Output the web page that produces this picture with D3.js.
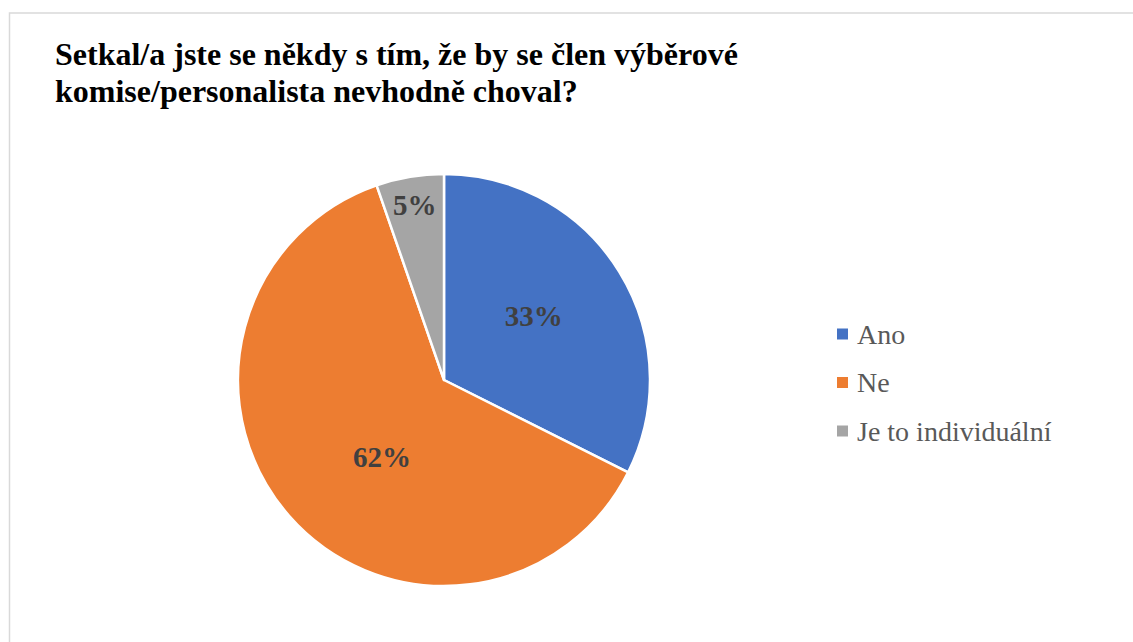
<!DOCTYPE html>
<html>
<head>
<meta charset="utf-8">
<script src="https://cdn.jsdelivr.net/npm/d3@7"></script>
<style>
body { margin: 0; background: #fff; }
svg { display: block; }
svg text { font-family: "Times New Roman", "Liberation Serif", "DejaVu Serif", serif; }
</style>
</head>
<body>
<script>
// data
var categories = ["Ano", "Ne", "Je to individuální"];
var values = [32.4, 62.3, 5.3];
var labels = ["33%", "62%", "5%"];
var colors = ["#4472c4", "#ed7d31", "#a5a5a5"];
var titleLines = ["Setkal/a jste se někdy s tím, že by se člen výběrové",
	"komise/personalista nevhodně choval?"];

var width = 1133, height = 642;

var svg = d3.select("body").append("svg")
	.attr("width", width)
	.attr("height", height);

// chart border
svg.append("rect")
	.attr("x", 9.5).attr("y", 13)
	.attr("width", 1140).attr("height", 650)
	.attr("fill", "#fff")
	.attr("stroke", "#d9d9d9")
	.attr("stroke-width", 1.5);

// title
svg.append("text")
	.attr("font-weight", "bold")
	.attr("font-size", 32)
	.attr("fill", "#000")
	.selectAll("tspan")
	.data(titleLines)
	.enter()
	.append("tspan")
	.attr("x", 55)
	.attr("y", (d, i) => 65 + i * 37)
	.text(d => d);

var cx = 444, cy = 380, r = 206;

var pie = d3.pie().sort(null).value(d => d.v);
var arcs = pie(categories.map((c, i) => ({c: c, v: values[i], i: i})));
var arc = d3.arc().innerRadius(0).outerRadius(r);

var g = svg.append("g").attr("transform", "translate(" + cx + "," + cy + ")");

g.selectAll("path")
	.data(arcs)
	.enter()
	.append("path")
	.attr("d", arc)
	.attr("fill", d => colors[d.data.i])
	.attr("stroke", "#fff")
	.attr("stroke-width", 2.5)
	.attr("stroke-linejoin", "round");

// data labels (best fit placement: radius fraction + small angle shift)
var lblRad = [0.535, 0.48, 0.86];
var lblShift = [-3.7, -10, 0];
g.selectAll("text.lbl")
	.data(arcs)
	.enter()
	.append("text")
	.attr("class", "lbl")
	.attr("transform", d => {
		var a = (d.startAngle + d.endAngle) / 2 + lblShift[d.data.i] * Math.PI / 180;
		var rr = r * lblRad[d.data.i];
		return "translate(" + (rr * Math.sin(a)) + "," + (-rr * Math.cos(a)) + ")";
	})
	.attr("text-anchor", "middle")
	.attr("dy", "0.35em")
	.attr("font-weight", "bold")
	.attr("font-size", 29)
	.attr("fill", "#404040")
	.text(d => labels[d.data.i]);

// legend
var legend = svg.append("g").attr("transform", "translate(837,334)");
var rows = legend.selectAll("g")
	.data(categories)
	.enter()
	.append("g")
	.attr("transform", (d, i) => "translate(0," + (i * 48.5) + ")");

rows.append("rect")
	.attr("x", 0).attr("y", -5.5)
	.attr("width", 11).attr("height", 11)
	.attr("fill", (d, i) => colors[i]);

rows.append("text")
	.attr("x", 20)
	.attr("dy", "0.35em")
	.attr("font-size", 28)
	.attr("fill", "#595959")
	.text(d => d);
</script>
</body>
</html>
